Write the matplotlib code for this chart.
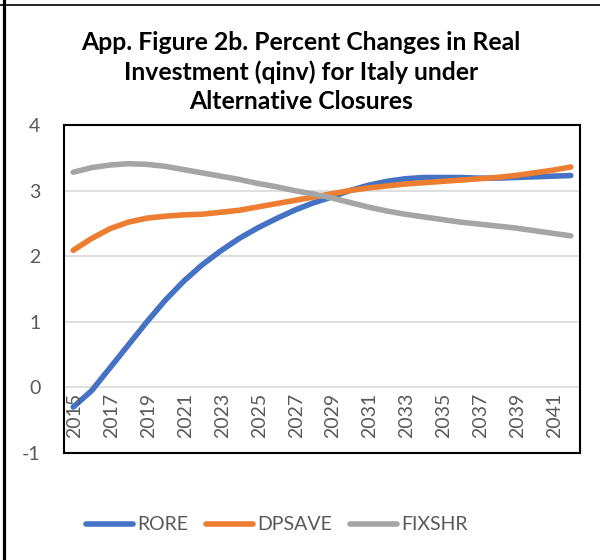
import matplotlib
matplotlib.use("Agg")
import matplotlib.pyplot as plt
from matplotlib.lines import Line2D

years = list(range(2015, 2043))
rore = [-0.30, -0.05, 0.30, 0.65, 1.00, 1.33, 1.62, 1.87, 2.08, 2.27, 2.43, 2.57, 2.70, 2.81,
        2.90, 3.00, 3.08, 3.14, 3.18, 3.20, 3.20, 3.20, 3.19, 3.19, 3.20, 3.21, 3.22, 3.23]
dpsave = [2.09, 2.27, 2.42, 2.52, 2.58, 2.61, 2.63, 2.64, 2.67, 2.70, 2.75, 2.80, 2.85, 2.90,
          2.95, 3.00, 3.04, 3.07, 3.10, 3.12, 3.14, 3.16, 3.18, 3.20, 3.23, 3.27, 3.31, 3.36]
fixshr = [3.28, 3.35, 3.39, 3.41, 3.40, 3.37, 3.32, 3.27, 3.22, 3.17, 3.11, 3.06, 3.00, 2.95,
          2.89, 2.82, 2.75, 2.69, 2.64, 2.60, 2.56, 2.52, 2.49, 2.46, 2.43, 2.39, 2.35, 2.31]
series_names = ["RORE", "DPSAVE", "FIXSHR"]
colors = ["#4472C4", "#ED7D31", "#A5A5A5"]
yticks = [-1, 0, 1, 2, 3, 4]
title = "App. Figure 2b. Percent Changes in Real\nInvestment (qinv) for Italy under\nAlternative Closures"

plt.rcParams['font.family'] = ['Lato', 'DejaVu Sans']

fig = plt.figure(figsize=(6, 5.6), dpi=100)
ax = fig.add_axes([64/600, 1-453/560, (580-64)/600, (453-125)/560])

x = list(range(len(years)))
for vals, name, c in zip([rore, dpsave, fixshr], series_names, colors):
    ax.plot(x, vals, color=c, lw=4.0, solid_capstyle='round', solid_joinstyle='round',
            label=name, zorder=3)

ax.set_xlim(-0.5, len(years) - 0.5)
ax.set_ylim(-1, 4)
ax.set_yticks(yticks)
ax.set_yticklabels([str(t) for t in yticks], color="#595959", fontsize=14)
ax.tick_params(axis='y', length=0, pad=17)
ax.set_xticks([])
for t in [0, 1, 2, 3]:
    ax.axhline(t, color="#D9D9D9", lw=1.2, zorder=1)
for s in ax.spines.values():
    s.set_color("black")
    s.set_linewidth(1.5)

for i, yr in enumerate(years):
    if i % 2 == 0:
        ax.text(i + 0.1, -0.08, str(yr), rotation=90, ha='center', va='top',
                color="#595959", fontsize=14)

fig.text(0.502, 1-72/560, title, ha='center', va='center', fontsize=17.8,
         fontweight='bold', linespacing=1.32, color='black')

leg = fig.legend(*ax.get_legend_handles_labels(), loc='center left',
                 bbox_to_anchor=(86/600, 1-525/560), borderpad=0, borderaxespad=0,
                 ncol=3, frameon=False, fontsize=14, handlelength=2.4, columnspacing=0.9,
                 handletextpad=0.25, labelcolor="#595959")

fig.add_artist(Line2D([4/600, 4/600], [0, 1], transform=fig.transFigure, color='black', lw=2.3))
fig.add_artist(Line2D([0, 1], [1-4.5/560, 1-4.5/560], transform=fig.transFigure, color='black', lw=1.2))

fig.savefig("out.png", dpi=100, facecolor='white')
